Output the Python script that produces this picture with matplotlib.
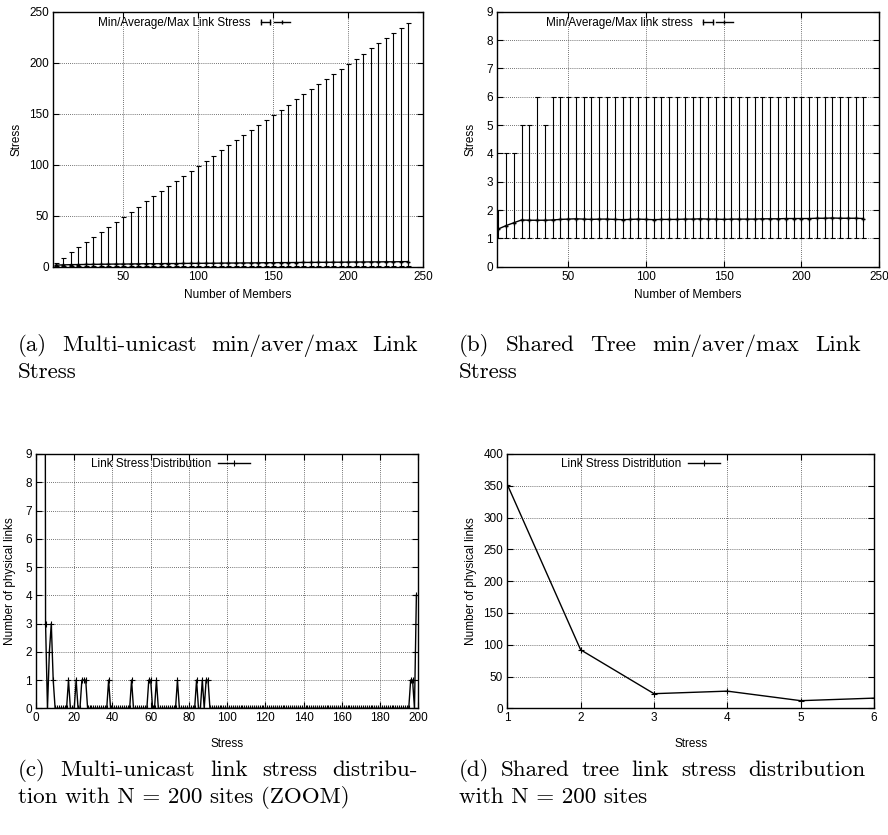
import matplotlib
matplotlib.use('Agg')
import matplotlib.pyplot as plt
import numpy as np
from matplotlib.lines import Line2D
from matplotlib.legend_handler import HandlerLine2D, HandlerTuple

plt.rcParams['font.family'] = ['Liberation Sans', 'DejaVu Sans']

# ---------------- data ----------------
members = [5, 10, 15, 20, 25, 30, 35, 40, 45, 50, 55, 60, 65, 70, 75, 80,
           85, 90, 95, 100, 105, 110, 115, 120, 125, 130, 135, 140, 145, 150,
           155, 160, 165, 170, 175, 180, 185, 190, 195, 200, 205, 210, 215,
           220, 225, 230, 235, 240]

mu_min = [1] * 48
mu_max = [4, 9, 14, 19, 24, 29, 34, 39, 44, 49, 54, 59, 64, 69, 74, 79,
          84, 89, 94, 99, 104, 109, 114, 119, 124, 129, 134, 139, 144, 149,
          154, 159, 164, 169, 174, 179, 184, 189, 194, 199, 204, 209, 214,
          219, 224, 229, 234, 239]
mu_avg = [1.5, 1.8, 2.0, 2.1, 2.2, 2.3, 2.4, 2.5, 2.6, 2.6, 2.7, 2.8, 2.9,
          2.9, 3.0, 3.1, 3.1, 3.2, 3.3, 3.3, 3.4, 3.4, 3.5, 3.6, 3.6, 3.7,
          3.7, 3.8, 3.9, 3.9, 4.0, 4.0, 4.1, 4.2, 4.2, 4.3, 4.3, 4.4, 4.4,
          4.5, 4.6, 4.6, 4.7, 4.7, 4.8, 4.8, 4.9, 5.0]

st_min = [1] * 48
st_max = [2, 4, 4, 5, 5, 6, 5, 6, 6, 6, 6, 6, 6, 6, 6, 6, 6, 6, 6, 6, 6, 6,
          6, 6, 6, 6, 6, 6, 6, 6, 6, 6, 6, 6, 6, 6, 6, 6, 6, 6, 6, 6, 6, 6,
          6, 6, 6, 6]
st_avg = [1.33, 1.45, 1.55, 1.65, 1.64, 1.64, 1.64, 1.65, 1.67, 1.68, 1.69,
          1.68, 1.67, 1.68, 1.68, 1.67, 1.66, 1.67, 1.68, 1.67, 1.66, 1.67,
          1.67, 1.67, 1.68, 1.68, 1.69, 1.68, 1.68, 1.67, 1.68, 1.68, 1.68,
          1.68, 1.69, 1.69, 1.69, 1.70, 1.70, 1.70, 1.70, 1.71, 1.71, 1.72,
          1.71, 1.71, 1.71, 1.70]

# (c) multi-unicast distribution: stress 1..199, non-zero counts listed
stress_c = list(range(1, 200))
nz_stress_c = [1, 2, 3, 4, 5, 7, 8, 9, 17, 21, 24, 25, 26, 38, 50, 59, 60,
               63, 74, 84, 87, 89, 90, 196, 197, 199]
nz_links_c = [600, 250, 110, 60, 3, 2, 3, 1, 1, 1, 1, 1, 1, 1, 1, 1, 1,
              1, 1, 1, 1, 1, 1, 1, 1, 4]
links_c = np.zeros(len(stress_c))
for s, v in zip(nz_stress_c, nz_links_c):
    links_c[stress_c.index(s)] = v

# (d) shared tree distribution
stress_d = [1, 2, 3, 4, 5, 6]
links_d = [352, 92, 23, 27, 12, 16]

# ---------------- figure ----------------
W, H = 888, 835
fig = plt.figure(figsize=(W / 100, H / 100), dpi=100)


def ax_at(l, t, r, b):
    return fig.add_axes([l / W, 1 - b / H, (r - l) / W, (b - t) / H])


FS = 8.5


def style(ax):
    ax.tick_params(direction='in', top=True, right=True, length=4,
                   width=0.8, labelsize=FS, pad=3)
    for s in ax.spines.values():
        s.set_linewidth(1.0)
    ax.grid(True, linestyle=(0, (1, 1.5)), color='#444', linewidth=0.6)
    ax.set_axisbelow(True)


def errkey(ax, label, x, y, hl):
    h_ends = Line2D([], [], color='k', lw=1.0, marker='|', ms=5, mew=1.0)
    h_mid = Line2D([], [], color='k', lw=1.0, marker='|', ms=3, mew=1.0)
    ax.legend(handles=[(h_ends, h_mid)], labels=[label], loc='center left',
              bbox_to_anchor=(x, y), frameon=False, markerfirst=False,
              borderaxespad=0, borderpad=0, handletextpad=0.6,
              handlelength=hl, fontsize=FS,
              handler_map={h_ends: HandlerLine2D(numpoints=2),
                           h_mid: HandlerLine2D(numpoints=1),
                           tuple: HandlerTuple(ndivide=None)})


def linekey(ax, label, x, y, hl):
    h = Line2D([], [], color='k', lw=1.0, marker='+', ms=5, mew=0.8)
    ax.legend(handles=[h], labels=[label], loc='center left',
              bbox_to_anchor=(x, y), frameon=False, markerfirst=False,
              borderaxespad=0, borderpad=0, handletextpad=0.6,
              handlelength=hl, numpoints=1, fontsize=FS)


# (a)
axa = ax_at(53.3, 11.7, 423, 266.7)
style(axa)
ma = np.array(mu_avg)
axa.errorbar(members, mu_avg,
             yerr=[ma - np.array(mu_min), np.array(mu_max) - ma],
             fmt='-', color='k', lw=1.0, ecolor='k', elinewidth=0.8,
             capsize=1.8, capthick=0.8, marker='+', ms=3)
axa.set_xlim(3.3, 250)
axa.set_ylim(0, 250)
axa.set_xticks([50, 100, 150, 200, 250])
axa.set_yticks([0, 50, 100, 150, 200, 250])
axa.set_xlabel('Number of Members', fontsize=FS, va='center')
axa.set_ylabel('Stress', fontsize=FS, va='center')
axa.xaxis.set_label_coords(0.5, -0.111)
axa.yaxis.set_label_coords(-0.1, 0.5)
errkey(axa, 'Min/Average/Max Link Stress', 0.12, 0.956, 2.8)

# (b)
axb = ax_at(497, 11.7, 879, 266.7)
style(axb)
sa = np.array(st_avg)
axb.errorbar(members, st_avg,
             yerr=[sa - np.array(st_min), np.array(st_max) - sa],
             fmt='-', color='k', lw=1.0, ecolor='k', elinewidth=0.8,
             capsize=1.8, capthick=0.8, marker='+', ms=3)
axb.set_xlim(4.2, 250)
axb.set_ylim(0, 9)
axb.set_xticks([50, 100, 150, 200, 250])
axb.set_yticks(range(0, 10))
axb.set_xlabel('Number of Members', fontsize=FS, va='center')
axb.set_ylabel('Stress', fontsize=FS, va='center')
axb.xaxis.set_label_coords(0.5, -0.111)
axb.yaxis.set_label_coords(-0.069, 0.5)
errkey(axb, 'Min/Average/Max link stress', 0.1275, 0.956, 2.8)

# (c)
axc = ax_at(36, 454, 418.3, 708.3)
style(axc)
axc.plot(stress_c, links_c, color='k', lw=1.0, marker='+', ms=4, mew=0.8)
axc.set_xlim(0, 200)
axc.set_ylim(0, 9)
axc.set_xticks(range(0, 201, 20))
axc.set_yticks(range(0, 10))
axc.set_xlabel('Stress', fontsize=FS, va='center')
axc.set_ylabel('Number of physical links', fontsize=FS, va='center')
axc.xaxis.set_label_coords(0.5, -0.14)
axc.yaxis.set_label_coords(-0.068, 0.5)
linekey(axc, 'Link Stress Distribution', 0.143, 0.961, 2.7)

# (d)
axd = ax_at(507.3, 454, 874, 708.3)
style(axd)
axd.plot(stress_d, links_d, color='k', lw=1.0, marker='+', ms=4, mew=0.8)
axd.set_xlim(1, 6)
axd.set_ylim(0, 400)
axd.set_xticks(stress_d)
axd.set_yticks(range(0, 401, 50))
axd.set_xlabel('Stress', fontsize=FS, va='center')
axd.set_ylabel('Number of physical links', fontsize=FS, va='center')
axd.xaxis.set_label_coords(0.5, -0.14)
axd.yaxis.set_label_coords(-0.1, 0.5)
linekey(axd, 'Link Stress Distribution', 0.146, 0.961, 2.7)

# ---------------- captions (justified, LaTeX-like) ----------------
CFS = 16.6
CFONT = ['cmr10', 'DejaVu Serif']
renderer = fig.canvas.get_renderer()


def justified(line, x0, x1, y):
    words = line.split(' ')
    ts = [fig.text(0, 1 - y / H, w, fontsize=CFS, family=CFONT,
                   va='baseline', ha='left') for w in words]
    widths = [t.get_window_extent(renderer).width for t in ts]
    gap = (x1 - x0 - sum(widths)) / (len(words) - 1)
    x = x0
    for t, wd in zip(ts, widths):
        t.set_x(x / W)
        x += wd + gap


def plain(line, x0, y):
    fig.text(x0 / W, 1 - y / H, line, fontsize=CFS, family=CFONT,
             va='baseline', ha='left')


justified('(a) Multi-unicast min/aver/max Link', 18, 418, 351)
plain('Stress', 18, 378)
justified('(b) Shared Tree min/aver/max Link', 459, 861, 351)
plain('Stress', 459, 378)
justified('(c) Multi-unicast link stress distribu-', 18, 418, 776)
plain('tion with N = 200 sites (ZOOM)', 18, 803)
justified('(d) Shared tree link stress distribution', 459, 865, 776)
plain('with N = 200 sites', 459, 803)

fig.savefig('out.png', dpi=100)
